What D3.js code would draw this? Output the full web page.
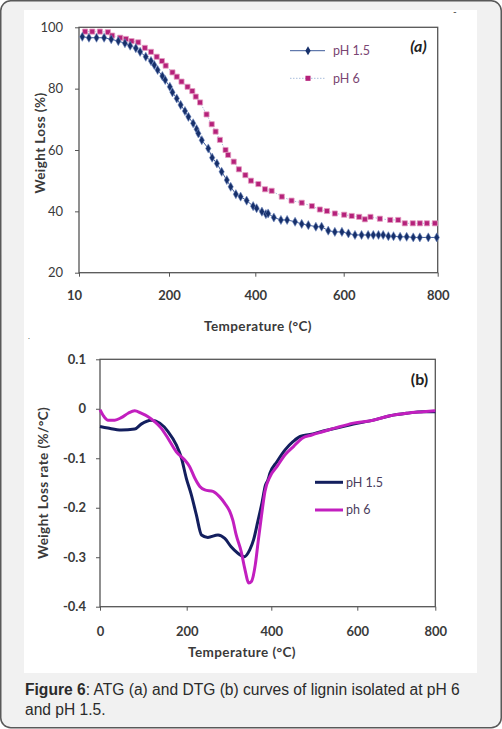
<!DOCTYPE html>
<html>
<head>
<meta charset="utf-8">
<script src="https://cdn.jsdelivr.net/npm/d3@7/dist/d3.min.js"></script>
<style>
  body { margin: 0; background: #fff; }
  svg { display: block; }
</style>
</head>
<body>
<div id="fig"></div>
<script>
// ---- (a) ATG: weight loss (%) vs temperature ----
var xTicksA = [10, 200, 400, 600, 800];
var xLabelsA = ['10', '200', '400', '600', '800'];
var yTicksA = [20, 40, 60, 80, 100];

var tempA15 = [17, 31, 47, 63, 78, 93, 107, 118, 130, 139, 151, 162, 169, 176, 186,
    192, 202, 208, 218, 227, 237, 245, 256, 264, 268, 276, 291, 300, 311, 322,
    334, 343, 355, 366, 380, 395, 403, 415, 424, 429, 442, 458, 472, 490, 505,
    520, 537, 550, 565, 580, 596, 610, 624, 638, 652, 663, 674, 684, 695, 706,
    720, 734, 748, 762, 780, 798];
var wlA15 = [96.9, 96.6, 96.6, 96.6, 96.1, 95.5, 94.8, 94.0, 93.2, 92.0, 90.4, 89.0, 87.7, 86.1, 84.1,
    82.8, 80.6, 78.8, 76.8, 74.7, 72.7, 70.8, 68.7, 66.8, 65.4, 63.2, 60.5, 57.5, 55.6, 52.9,
    50.2, 48.0, 45.6, 44.8, 43.5, 41.7, 41.0, 39.9, 39.1, 39.3, 38.0, 37.2, 37.2, 36.6, 35.9,
    35.5, 35.0, 35.0, 33.7, 33.3, 33.3, 32.8, 32.3, 32.3, 32.3, 32.3, 32.3, 32.3, 31.9, 31.9,
    31.7, 31.7, 31.5, 31.5, 31.5, 31.5];

var tempA6 = [23, 38, 54, 71, 80, 97, 109, 121, 135, 149, 162, 174, 185, 193, 208,
    218, 229, 243, 254, 262, 272, 287, 299, 308, 318, 331, 337, 350, 362, 377,
    390, 407, 422, 437, 460, 482, 505, 528, 546, 562, 580, 601, 617, 633, 645,
    657, 677, 699, 716, 730, 747, 762, 777, 794];
var wlA6 = [98.6, 98.6, 98.6, 98.4, 97.3, 96.6, 96.2, 95.5, 95.1, 93.3, 92.0, 90.4, 89.0, 87.5, 85.3,
    83.9, 82.3, 80.6, 79.2, 77.4, 75.5, 71.6, 68.4, 66.0, 63.3, 60.0, 58.4, 56.2, 53.7, 51.8,
    50.0, 48.9, 47.2, 46.7, 44.8, 43.5, 42.8, 41.7, 40.6, 40.1, 39.3, 38.9, 38.5, 38.2, 37.4,
    38.2, 37.6, 37.2, 37.2, 36.1, 36.1, 36.1, 36.1, 36.1];

// ---- (b) DTG: weight loss rate (%/°C) vs temperature ----
var xTicksB = [0, 200, 400, 600, 800];
var yTicksB = [-0.4, -0.3, -0.2, -0.1, 0, 0.1];
var yLabelsB = ['-0.4', '-0.3', '-0.2', '-0.1', '0', '0.1'];

var tempB15 = [0, 18, 49, 80, 95, 118, 138, 157, 176, 188, 199, 211, 223, 235, 250,
    274, 290, 305, 321, 336, 349, 358, 368, 378, 386, 392, 397, 413, 432, 451,
    467, 490, 521, 552, 591, 641, 684, 727, 769, 800];
var rateB15 = [-0.036, -0.039, -0.043, -0.041, -0.031, -0.023, -0.029, -0.046, -0.073, -0.100,
    -0.140, -0.174, -0.215, -0.255, -0.260, -0.255, -0.262, -0.279, -0.292, -0.299,
    -0.285, -0.265, -0.228, -0.190, -0.155, -0.144, -0.130, -0.107, -0.083, -0.066,
    -0.056, -0.052, -0.045, -0.039, -0.031, -0.023, -0.014, -0.009, -0.006, -0.006];

var tempB6 = [0, 7, 18, 34, 49, 65, 80, 95, 111, 126, 141, 157, 176, 195, 207,
    219, 231, 243, 262, 278, 290, 302, 309, 317, 329, 337, 347, 353, 362, 369,
    377, 385, 397, 413, 432, 451, 471, 494, 521, 552, 591, 641, 684, 727, 769, 800];
var rateB6 = [-0.002, -0.013, -0.023, -0.023, -0.018, -0.009, -0.004, -0.009, -0.016, -0.026,
    -0.039, -0.060, -0.087, -0.103, -0.117, -0.140, -0.157, -0.164, -0.167, -0.178,
    -0.191, -0.208, -0.225, -0.255, -0.289, -0.322, -0.352, -0.349, -0.316, -0.268,
    -0.215, -0.167, -0.137, -0.117, -0.093, -0.077, -0.060, -0.053, -0.046, -0.038,
    -0.029, -0.023, -0.014, -0.009, -0.006, -0.004];

var navyA = '#17306b';
var pinkA = '#b5217a';
var navyB = '#131f5e';
var pinkB = '#c21fbf';
var axisColor = '#555';
var textColor = '#3a3a3a';
var chartFont = 'Lato, "Open Sans", sans-serif';

var svg = d3.select('#fig')
    .append('svg')
    .attr('width', 502)
    .attr('height', 729);

// card and white panel
svg.append('rect')
    .attr('x', 0.75).attr('y', 0.75)
    .attr('width', 500.5).attr('height', 727)
    .attr('rx', 10)
    .attr('fill', '#f1f1f1')
    .attr('stroke', '#595959')
    .attr('stroke-width', 1.5);

svg.append('rect')
    .attr('x', 24).attr('y', 10)
    .attr('width', 453).attr('height', 663)
    .attr('fill', '#fff');

svg.append('text').attr('x', 453).attr('y', 15).attr('font-size', 10)
    .attr('font-family', chartFont).attr('fill', '#333').text('-');
svg.append('text').attr('x', 28).attr('y', 339).attr('font-size', 8)
    .attr('font-family', chartFont).attr('fill', '#555').text('.');

function zip(xs, ys) {
    return xs.map(function(t, i) { return { t: t, v: ys[i] }; });
}

function styleAxis(g, bold) {
    g.select('.domain').remove();
    g.selectAll('line').attr('stroke', axisColor);
    g.selectAll('text')
        .attr('font-family', chartFont)
        .attr('font-size', 13)
        .attr('font-weight', bold ? 'bold' : 'normal')
        .attr('fill', textColor);
}

function axisTitle(g, text, x, y, rotate) {
    return g.append('text')
        .attr('transform', 'translate(' + x + ',' + y + ')' + (rotate ? ' rotate(-90)' : ''))
        .attr('dy', '0.35em')
        .attr('text-anchor', 'middle')
        .attr('font-family', chartFont)
        .attr('font-size', 13.5)
        .attr('letter-spacing', 0.4)
        .attr('font-weight', 'bold')
        .attr('fill', textColor)
        .text(text);
}

// ================= chart (a) =================
var boxA = { left: 79, top: 27.3, right: 437.7, bottom: 272.7 };
var xA = d3.scaleLinear()
    .domain(xTicksA)
    .range([boxA.left, 169, 255.3, 343.7, boxA.right]);
var yA = d3.scaleLinear()
    .domain([20, 100])
    .range([boxA.bottom, boxA.top]);

var gA = svg.append('g');

gA.append('g')
    .attr('transform', 'translate(' + boxA.left + ',0)')
    .call(d3.axisLeft(yA).tickValues(yTicksA).tickSize(4).tickSizeOuter(0).tickPadding(12))
    .call(styleAxis, false);

var xAxisA = gA.append('g')
    .attr('transform', 'translate(0,' + boxA.bottom + ')')
    .call(d3.axisBottom(xA).tickValues(xTicksA)
        .tickFormat(function(d, i) { return xLabelsA[i]; })
        .tickSize(4).tickSizeOuter(0).tickPadding(14))
    .call(styleAxis, true);
xAxisA.selectAll('.tick text').filter(function(d, i) { return i === 0; }).attr('dx', -5);

gA.append('rect')
    .attr('x', boxA.left).attr('y', boxA.top)
    .attr('width', boxA.right - boxA.left).attr('height', boxA.bottom - boxA.top)
    .attr('fill', 'none').attr('stroke', axisColor).attr('stroke-width', 1.3);

var lineA = d3.line()
    .x(function(d) { return xA(d.t); })
    .y(function(d) { return yA(d.v); });

var dataA6 = zip(tempA6, wlA6);
var dataA15 = zip(tempA15, wlA15);

gA.append('path')
    .datum(dataA6)
    .attr('d', lineA)
    .attr('fill', 'none')
    .attr('stroke', '#a9bddb')
    .attr('stroke-width', 1)
    .attr('stroke-dasharray', '1.5,1.5');

gA.append('path')
    .datum(dataA15)
    .attr('d', lineA)
    .attr('fill', 'none')
    .attr('stroke', '#3d5a99')
    .attr('stroke-width', 1);

var square = d3.symbol().type(d3.symbolSquare).size(26);
var diamond = d3.symbol().type(d3.symbolDiamond).size(24);

gA.selectAll('.sq')
    .data(dataA6)
    .enter()
    .append('path')
    .attr('class', 'sq')
    .attr('d', square)
    .attr('transform', function(d) { return 'translate(' + xA(d.t) + ',' + yA(d.v) + ')'; })
    .attr('fill', pinkA)
    .attr('stroke', '#e39ac0')
    .attr('stroke-width', 0.8);

gA.selectAll('.dm')
    .data(dataA15)
    .enter()
    .append('path')
    .attr('class', 'dm')
    .attr('d', diamond)
    .attr('transform', function(d) { return 'translate(' + xA(d.t) + ',' + yA(d.v) + ')'; })
    .attr('fill', navyA)
    .attr('stroke', '#6f88c0')
    .attr('stroke-width', 0.6);

// legend (a)
var legA = gA.append('g');
legA.append('line').attr('x1', 290).attr('x2', 325).attr('y1', 50.7).attr('y2', 50.7)
    .attr('stroke', '#3d5a99').attr('stroke-width', 1);
legA.append('path').attr('d', diamond)
    .attr('transform', 'translate(308,50.7)').attr('fill', navyA);
legA.append('line').attr('x1', 290).attr('x2', 325).attr('y1', 78.3).attr('y2', 78.3)
    .attr('stroke', '#a9bddb').attr('stroke-width', 1).attr('stroke-dasharray', '1.5,1.5');
legA.append('path').attr('d', square)
    .attr('transform', 'translate(308,78.3)').attr('fill', pinkA);
legA.selectAll('text')
    .data(['pH 1.5', 'pH 6'])
    .enter()
    .append('text')
    .attr('x', 333)
    .attr('y', function(d, i) { return i === 0 ? 50.7 : 78.3; })
    .attr('dy', '0.35em')
    .attr('font-family', chartFont)
    .attr('font-size', 12.5)
    .attr('fill', '#7a4572')
    .text(function(d) { return d; });

gA.append('text')
    .attr('x', 418.5).attr('y', 46).attr('dy', '0.35em')
    .attr('text-anchor', 'middle')
    .attr('font-family', chartFont)
    .attr('font-size', 16)
    .attr('font-weight', 'bold')
    .attr('font-style', 'italic')
    .attr('fill', '#222')
    .text('(a)');

axisTitle(gA, 'Weight Loss (%)', 40, 143, true);
axisTitle(gA, 'Temperature (°C)', 258, 326, false);

// ================= chart (b) =================
var boxB = { left: 100, top: 359.3, right: 435.3, bottom: 606.7 };
var xB = d3.scaleLinear()
    .domain(xTicksB)
    .range([boxB.left, 186.7, 271.3, 357.3, boxB.right]);
var yB = d3.scaleLinear()
    .domain([-0.4, 0.1])
    .range([boxB.bottom, boxB.top]);

var gB = svg.append('g');

gB.append('g')
    .attr('transform', 'translate(' + boxB.left + ',0)')
    .call(d3.axisLeft(yB).tickValues(yTicksB)
        .tickFormat(function(d, i) { return yLabelsB[i]; })
        .tickSize(4).tickSizeOuter(0).tickPadding(10))
    .call(styleAxis, true);

gB.append('g')
    .attr('transform', 'translate(0,' + boxB.bottom + ')')
    .call(d3.axisBottom(xB).tickValues(xTicksB).tickSize(4).tickSizeOuter(0).tickPadding(16))
    .call(styleAxis, true);

gB.append('rect')
    .attr('x', boxB.left).attr('y', boxB.top)
    .attr('width', boxB.right - boxB.left).attr('height', boxB.bottom - boxB.top)
    .attr('fill', 'none').attr('stroke', axisColor).attr('stroke-width', 1.3);

var lineB = d3.line()
    .curve(d3.curveMonotoneX)
    .x(function(d) { return xB(d.t); })
    .y(function(d) { return yB(d.v); });

gB.append('path')
    .datum(zip(tempB15, rateB15))
    .attr('d', lineB)
    .attr('fill', 'none')
    .attr('stroke', navyB)
    .attr('stroke-width', 3)
    .attr('stroke-linejoin', 'round');

gB.append('path')
    .datum(zip(tempB6, rateB6))
    .attr('d', lineB)
    .attr('fill', 'none')
    .attr('stroke', pinkB)
    .attr('stroke-width', 3)
    .attr('stroke-linejoin', 'round');

var legB = gB.append('g');
[['pH 1.5', navyB, 482.3], ['ph 6', pinkB, 510]].forEach(function(it) {
    legB.append('line')
        .attr('x1', 315).attr('x2', 343).attr('y1', it[2]).attr('y2', it[2])
        .attr('stroke', it[1]).attr('stroke-width', 3);
    legB.append('text')
        .attr('x', 346).attr('y', it[2]).attr('dy', '0.35em')
        .attr('font-family', chartFont)
        .attr('font-size', 12.5)
        .attr('fill', '#4a3d5c')
        .text(it[0]);
});

gB.append('text')
    .attr('x', 419.5).attr('y', 379.5).attr('dy', '0.35em')
    .attr('text-anchor', 'middle')
    .attr('font-family', chartFont)
    .attr('font-size', 16)
    .attr('font-weight', 'bold')
    .attr('fill', '#222')
    .text('(b)');

axisTitle(gB, 'Weight Loss rate (%/°C)', 43, 483, true);
axisTitle(gB, 'Temperature (°C)', 242, 652, false);

// caption
var cap = svg.append('text')
    .attr('x', 25).attr('y', 695)
    .attr('font-family', '"Liberation Sans", Arial, sans-serif')
    .attr('font-size', 15.6)
    .attr('fill', '#2b2b2b');
cap.append('tspan').attr('font-weight', 'bold').text('Figure 6');
cap.append('tspan').text(': ATG (a) and DTG (b) curves of lignin isolated at pH 6');
svg.append('text')
    .attr('x', 25).attr('y', 715)
    .attr('font-family', '"Liberation Sans", Arial, sans-serif')
    .attr('font-size', 15.6)
    .attr('fill', '#2b2b2b')
    .text('and pH 1.5.');
</script>
</body>
</html>
